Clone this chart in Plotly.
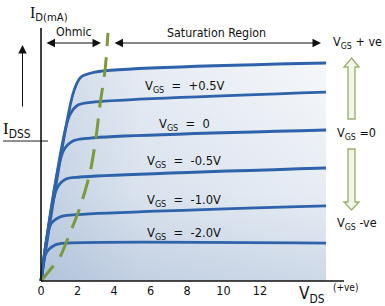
import plotly.graph_objects as go

W, H = 385, 306

# ---------------- data ----------------
vds_ticks = [0, 2, 4, 6, 8, 10, 12]
vds_tick_text = ["0", "2", "4", "6", "8", "10", "12"]

# drain characteristic curves (V_DS in volts, I_D in mA), top curve first
c1_vds = [0, 1.78, 2.19, 2.96, 15.62]
c1_id = [0, 13.39, 14.46, 14.81, 15.45]
c2_vds = [0, 1.55, 2.03, 2.96, 15.62]
c2_id = [0, 11.69, 12.47, 12.69, 13.39]
c3_vds = [0, 1.22, 1.75, 2.68, 15.62]
c3_id = [0, 9.21, 9.92, 10.13, 10.70]
c4_vds = [0, 0.88, 1.37, 2.14, 15.62]
c4_id = [0, 6.59, 7.23, 7.37, 8.01]
c5_vds = [0, 0.54, 1.04, 1.75, 15.62]
c5_id = [0, 4.04, 4.54, 4.68, 5.32]
c6_vds = [0, 0.25, 0.77, 1.42, 15.62]
c6_id = [0, 1.91, 2.55, 2.69, 2.69]

curve_labels = ["", "+0.5V", "0", "-0.5V", "-1.0V", "-2.0V"]

# pinch-off locus (green dashed)
pinch_vds = [0, 0.49, 1.04, 1.48, 2.14, 2.68, 3.01, 3.23, 3.51, 3.67]
pinch_id = [0, 0.78, 1.70, 3.05, 5.24, 7.65, 10.13, 12.47, 14.95, 17.58]

idss = 9.92

curves = [(c1_vds, c1_id), (c2_vds, c2_id), (c3_vds, c3_id),
          (c4_vds, c4_id), (c5_vds, c5_id), (c6_vds, c6_id)]

# ---------------- helpers (decoration placement in pixels) ----------------
def px(x):
    return x / W


def py(y):
    return 1 - y / H


X0, XS = 41, 18.25     # pixel of V_DS=0, px per volt
Y0, YS = 281, 14.11    # pixel of I_D=0, px per mA

FONT = "DejaVu Sans Condensed, Open Sans, sans-serif"
SERIF = "Liberation Serif, DejaVu Serif, serif"
BLUE = "#2e62aa"
GREEN = "#7a9a3c"
FILLC = "110,143,187"

fig = go.Figure()

# gradient background under the top curve (two layered gradients)
fig.add_trace(go.Scatter(
    x=c1_vds, y=c1_id, mode="lines", line=dict(width=0, shape="spline", smoothing=0.8),
    fill="tozeroy",
    fillgradient=dict(type="horizontal",
                      colorscale=[[0, f"rgba({FILLC},0.32)"], [0.35, f"rgba({FILLC},0.14)"],
                                  [1, f"rgba({FILLC},0.03)"]]),
    hoverinfo="skip", showlegend=False))
fig.add_trace(go.Scatter(
    x=c1_vds, y=c1_id, mode="lines", line=dict(width=0, shape="spline", smoothing=0.8),
    fill="tozeroy",
    fillgradient=dict(type="vertical",
                      colorscale=[[0, f"rgba({FILLC},0.32)"], [0.4, f"rgba({FILLC},0.14)"],
                                  [1, f"rgba({FILLC},0.04)"]]),
    hoverinfo="skip", showlegend=False))

for vx, iy in curves:
    fig.add_trace(go.Scatter(
        x=vx, y=iy, mode="lines",
        line=dict(color=BLUE, width=2.8, shape="spline", smoothing=0.8),
        hoverinfo="skip", showlegend=False))

fig.add_trace(go.Scatter(
    x=pinch_vds, y=pinch_id, mode="lines",
    line=dict(color=GREEN, width=3, dash="20px,11px", shape="spline", smoothing=0.8),
    hoverinfo="skip", showlegend=False))

# IDSS tick line
fig.add_trace(go.Scatter(
    x=[(3 - X0) / XS, (48 - X0) / XS], y=[idss, idss], mode="lines",
    line=dict(color="#222222", width=1), hoverinfo="skip", showlegend=False))

shapes = []
# axis lines
shapes.append(dict(type="line", xref="paper", yref="paper",
                   x0=px(41), x1=px(344), y0=py(281), y1=py(281),
                   line=dict(color="#111111", width=1.6)))
shapes.append(dict(type="line", xref="paper", yref="paper",
                   x0=px(41), x1=px(41), y0=py(28), y1=py(281),
                   line=dict(color="#111111", width=1.6)))


def poly(pts):
    s = "M " + " L ".join(f"{px(a):.5f},{py(b):.5f}" for a, b in pts) + " Z"
    return s


up_arrow = [(351.5, 58), (359, 67), (355, 67), (355, 119), (348, 119), (348, 67), (344, 67)]
down_arrow = [(351.5, 210), (359, 202), (355, 202), (355, 149), (348, 149), (348, 202), (344, 202)]
for pts in (up_arrow, down_arrow):
    shapes.append(dict(type="path", xref="paper", yref="paper", path=poly(pts),
                       fillcolor="#f2f6e6", line=dict(color="#9fb072", width=1.4)))

annotations = []


def txt(x, y, text, size=12.3, xanchor="center", color="#111111", family=FONT):
    annotations.append(dict(xref="paper", yref="paper", x=px(x), y=py(y), text=text,
                            showarrow=False, xanchor=xanchor, yanchor="middle",
                            font=dict(family=family, size=size, color=color)))


def arrow(x, y, ax, ay, both=False):
    annotations.append(dict(xref="paper", yref="paper", x=px(x), y=py(y), ax=ax, ay=ay,
                            text="", showarrow=True, arrowhead=2, arrowsize=1.7,
                            arrowwidth=1, arrowcolor="#111111", standoff=0, startstandoff=0,
                            arrowside="end+start" if both else "end"))


# region arrows
arrow(101, 43, -56, 0, both=True)
arrow(321, 43, -208, 0, both=True)
txt(73.5, 32, "Ohmic")
txt(216, 33, "Saturation Region")

# left vertical arrow
arrow(22.5, 45, 0, 63)

# axis titles
txt(28, 14, "<span style='font-family:Liberation Serif'>I</span><sub>D(mA)</sub>", size=16,
    xanchor="left")
txt(1, 130, "<span style='font-family:Liberation Serif'>I</span><sub>DSS</sub>", size=17,
    xanchor="left")
txt(297, 294, "V<sub>DS</sub>", size=17, xanchor="left")
txt(331, 287, "(+ve)", size=10, xanchor="left")

# curve labels
label_y = [None, 86, 124, 161, 200, 234]
for lab, ly in zip(curve_labels, label_y):
    if lab:
        txt(184, ly, f"V<sub>GS</sub>  =  {lab}", size=12.8)

# right side labels
txt(357.5, 43, "V<sub>GS</sub> + ve", size=12.5)
txt(356.5, 133, "V<sub>GS</sub> =0", size=12.5)
txt(357, 223, "V<sub>GS</sub> -ve", size=12.5)

fig.update_layout(
    width=W, height=H, margin=dict(l=0, r=0, t=0, b=0),
    paper_bgcolor="white", plot_bgcolor="white",
    shapes=shapes, annotations=annotations,
    xaxis=dict(range=[-X0 / XS, (W - X0) / XS], showgrid=False, zeroline=False,
               showline=False, anchor="free", position=1 - Y0 / H,
               tickvals=vds_ticks, ticktext=vds_tick_text, ticks="",
               tickfont=dict(family=FONT, size=12.5, color="#111111"),
               ticklabelstandoff=0),
    yaxis=dict(range=[(Y0 - H) / YS, Y0 / YS], showgrid=False, zeroline=False,
               showline=False, showticklabels=False, ticks=""),
)

fig.write_html("out.html")
